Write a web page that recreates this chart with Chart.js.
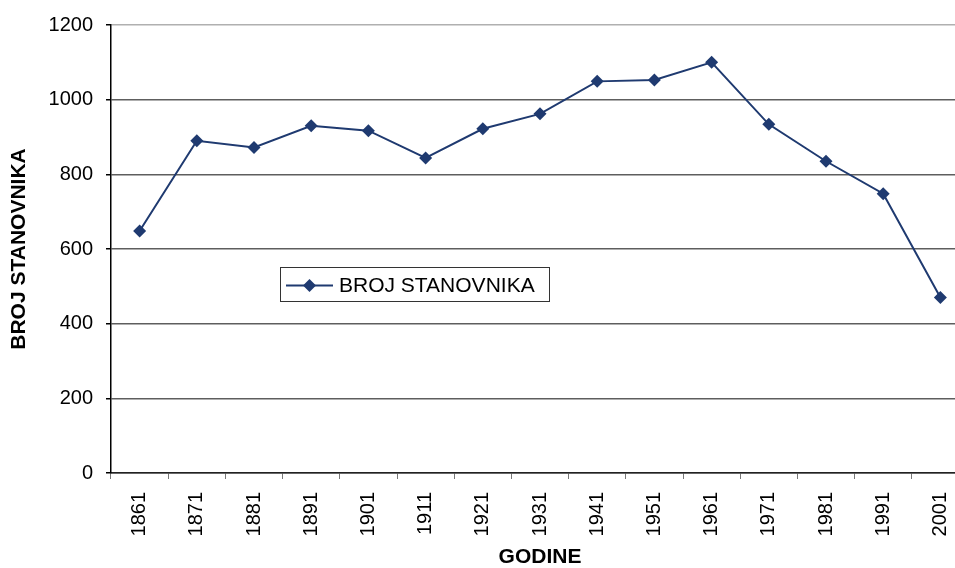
<!DOCTYPE html>
<html>
<head>
<meta charset="utf-8">
<script src="https://cdn.jsdelivr.net/npm/chart.js@4"></script>
<style>
  html, body { margin: 0; padding: 0; background: #fff; overflow: hidden; }
  #popChart { position: absolute; left: 0; top: 0; }
</style>
</head>
<body>
<canvas id="popChart" width="980" height="568"></canvas>
<script>
// podaci sa grafa
const years = ['1861', '1871', '1881', '1891', '1901', '1911', '1921', '1931',
               '1941', '1951', '1961', '1971', '1981', '1991', '2001'];
const population = [648, 890, 872, 930, 917, 844, 922, 962, 1049, 1053, 1100, 934, 835, 748, 470];
const yTicks = [0, 200, 400, 600, 800, 1000, 1200];

const NAVY = '#1f3a70';
const FONT = "'Liberation Sans', Arial, sans-serif";

// legenda unutar grafa (kao u Excelu)
const boxLegend = {
    id: 'boxLegend',
    afterDatasetsDraw(chart) {
        const ctx = chart.ctx;
        ctx.save();
        ctx.fillStyle = '#fff';
        ctx.fillRect(280.5, 267.5, 269, 34);
        ctx.strokeStyle = '#333';
        ctx.lineWidth = 1;
        ctx.strokeRect(280.5, 267.5, 269, 34);
        ctx.strokeStyle = NAVY;
        ctx.lineWidth = 2;
        ctx.beginPath();
        ctx.moveTo(286, 285.5);
        ctx.lineTo(333, 285.5);
        ctx.stroke();
        ctx.fillStyle = NAVY;
        ctx.beginPath();
        ctx.moveTo(303, 285.5); ctx.lineTo(309.5, 279); ctx.lineTo(316, 285.5); ctx.lineTo(309.5, 292);
        ctx.closePath();
        ctx.fill();
        ctx.fillStyle = '#000';
        ctx.font = '21px ' + FONT;
        ctx.textBaseline = 'middle';
        ctx.fillText(chart.data.datasets[0].label, 339, 286);
        ctx.restore();
    }
};

new Chart(document.getElementById('popChart'), {
    type: 'line',
    data: {
        labels: years,
        datasets: [{
            label: 'BROJ STANOVNIKA',
            data: population,
            borderColor: NAVY,
            backgroundColor: NAVY,
            borderWidth: 2,
            tension: 0,
            pointStyle: 'rectRot',
            pointRadius: 6.5,
            pointBorderWidth: 0,
            pointBackgroundColor: NAVY
        }]
    },
    options: {
        responsive: false,
        animation: false,
        layout: { padding: { top: 23, right: 11, left: 0, bottom: 0 } },
        plugins: { legend: { display: false }, tooltip: { enabled: false } },
        scales: {
            x: {
                offset: true,
                grid: { drawOnChartArea: false, offset: true, tickLength: 6, tickColor: '#777' },
                border: { color: '#222', width: 1.5 },
                ticks: { color: '#000', font: { family: FONT, size: 20 }, minRotation: 90, maxRotation: 90, padding: 13, autoSkip: false },
                title: { display: true, text: 'GODINE', color: '#000', font: { family: FONT, size: 21, weight: 'bold', lineHeight: 1 }, padding: { top: 0, bottom: 0 } },
                afterFit: (s) => { s.height = 95; }
            },
            y: {
                min: 0,
                max: 1200,
                afterBuildTicks: (s) => { s.ticks = yTicks.map(v => ({ value: v })); },
                grid: {
                    color: (c) => c.tick && c.tick.value === 1200 ? '#b0b0b0' : '#5e5e5e',
                    lineWidth: 1.5,
                    tickLength: 5,
                    tickColor: '#000'
                },
                border: { color: '#000', width: 1.5 },
                ticks: { color: '#000', font: { family: FONT, size: 20 }, padding: 13, callback: (v) => String(v) },
                title: { display: true, text: 'BROJ STANOVNIKA', color: '#000', font: { family: FONT, size: 21, weight: 'bold', lineHeight: 1 }, padding: { top: 8.5, bottom: 0 } },
                afterFit: (s) => { s.width = 111; }
            }
        }
    },
    plugins: [boxLegend]
});
</script>
</body>
</html>
